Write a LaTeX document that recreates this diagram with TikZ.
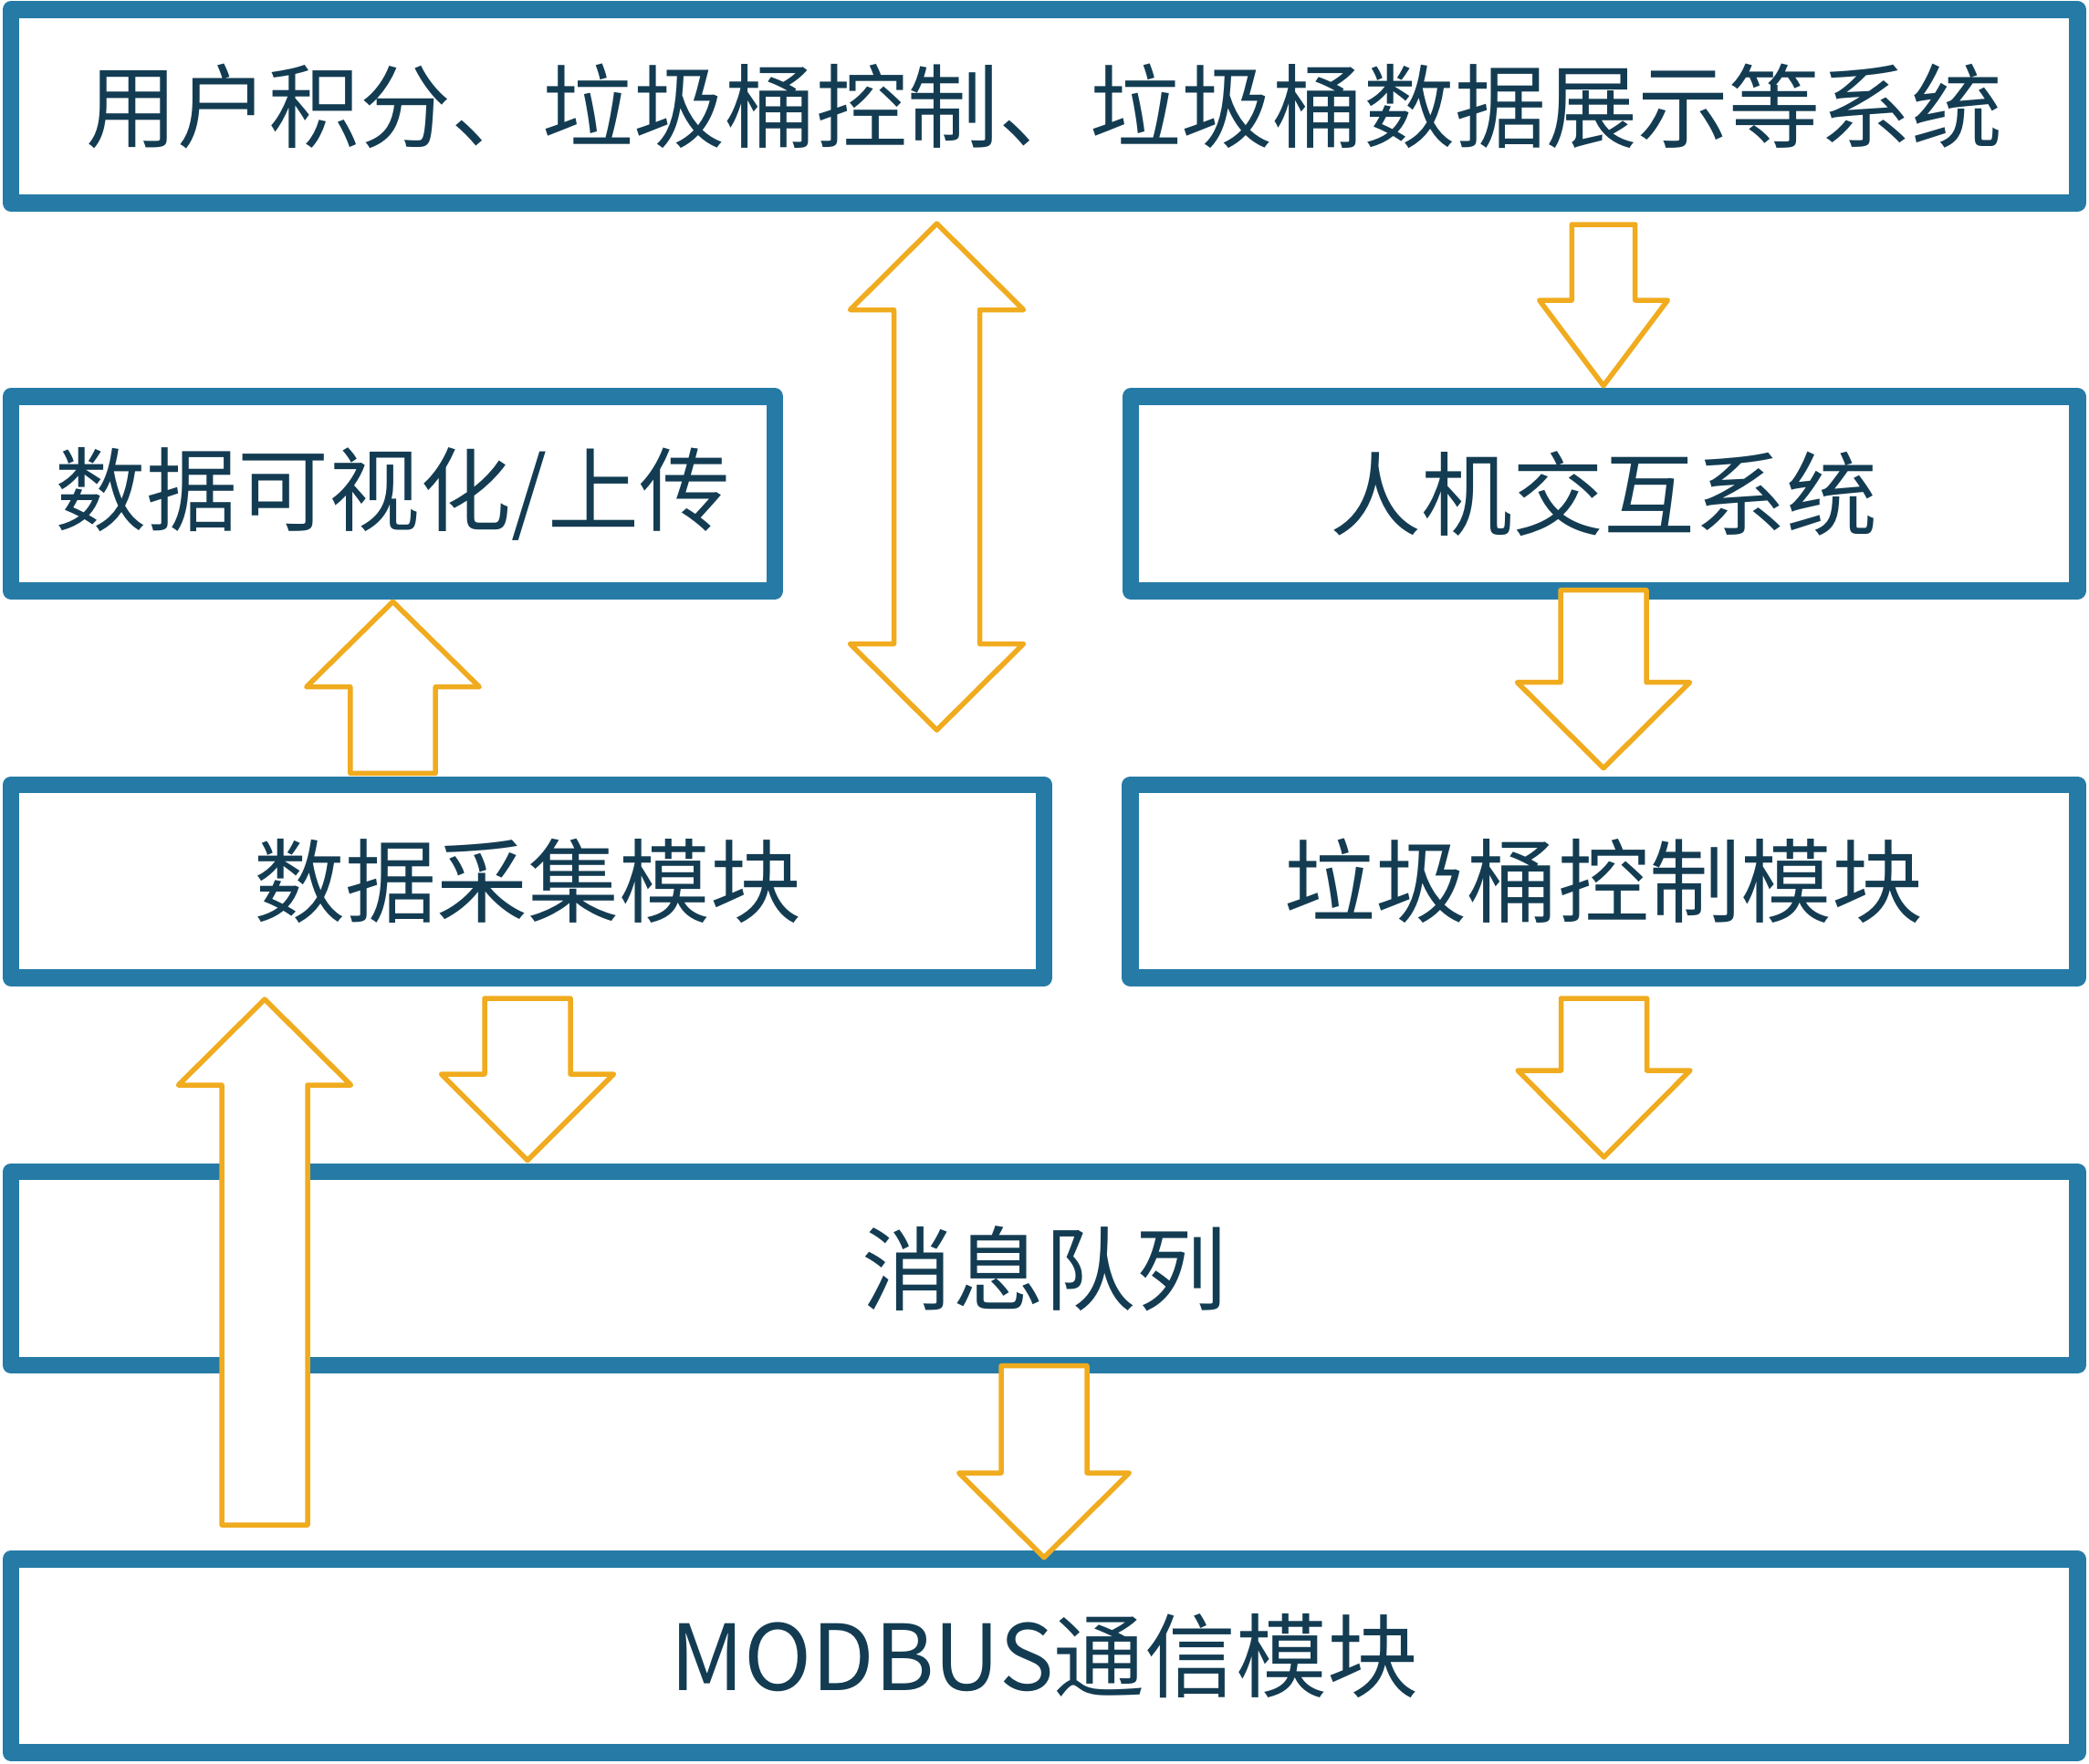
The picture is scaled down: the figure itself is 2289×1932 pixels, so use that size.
\documentclass[tikz,border=0pt]{standalone}
\usepackage{fontspec}
\newfontfamily\cjk{Noto Sans CJK SC}
\definecolor{boxblue}{RGB}{38,123,166}
\definecolor{arroworange}{RGB}{240,171,30}
\definecolor{textnavy}{RGB}{19,60,82}
\tikzset{
  box/.style={rectangle, draw=boxblue, line width=9.25pt, line join=round, fill=white,
    text=textnavy, font=\cjk\fontsize{50}{50}\selectfont, inner sep=0pt},
  blockarrow/.style={draw=arroworange, fill=white, line width=2.75pt, line join=round}
}
% centre x, tail y, head-base y, tip y, shaft half width, head half width
\newcommand\BlockArrow[6]{%
  \draw[blockarrow] ({#1-#5},#2) -- ({#1+#5},#2) -- ({#1+#5},#3) -- ({#1+#6},#3)
    -- (#1,#4) -- ({#1-#6},#3) -- ({#1-#5},#3) -- cycle;}
\begin{document}
\begin{tikzpicture}[x=0.5pt,y=-0.5pt]
\useasboundingbox (0,0) rectangle (2289,1932);
\node[box, minimum width=1132.25pt, minimum height=106pt] (sys) at (1144.25,116.5) {用户积分、垃圾桶控制、垃圾桶数据展示等系统};
\node[box, minimum width=418.5pt, minimum height=106.5pt] (vis) at (430.5,541) {数据可视化/上传};
\node[box, minimum width=518.75pt, minimum height=106.5pt] (hmi) at (1757.75,541) {人机交互系统};
\node[box, minimum width=566pt, minimum height=105.75pt] (acq) at (578,965.75) {数据采集模块};
\node[box, minimum width=519pt, minimum height=105.75pt] (ctl) at (1757.5,965.75) {垃圾桶控制模块};
\node[box, minimum width=1132.25pt, minimum height=106pt] (mq) at (1144.25,1390) {消息队列};
\node[box, minimum width=1132.25pt, minimum height=106pt] (mod) at (1144.25,1814.4) {MODBUS通信模块};
% double arrow between top system and middle row
\draw[blockarrow] (1026.5,245) -- (1121.5,339.5) -- (1073.5,339.5) -- (1073.5,705.5)
  -- (1121.5,705.5) -- (1026.5,800) -- (931.5,705.5) -- (979.5,705.5)
  -- (979.5,339.5) -- (931.5,339.5) -- cycle;
\BlockArrow{1757}{246}{329}{422.7}{34.7}{70.3}
\BlockArrow{1757}{646.7}{747.7}{841.7}{47}{94.5}
\BlockArrow{430.5}{847.3}{752.7}{659.3}{46.7}{94.7}
\BlockArrow{290}{1671}{1189}{1095}{47}{94.5}
\BlockArrow{578}{1094}{1177}{1271.5}{47}{94.5}
\BlockArrow{1757.5}{1094}{1173}{1268}{47}{94.5}
\BlockArrow{1144}{1496.7}{1614}{1706.7}{47}{93.3}
\end{tikzpicture}
\end{document}
